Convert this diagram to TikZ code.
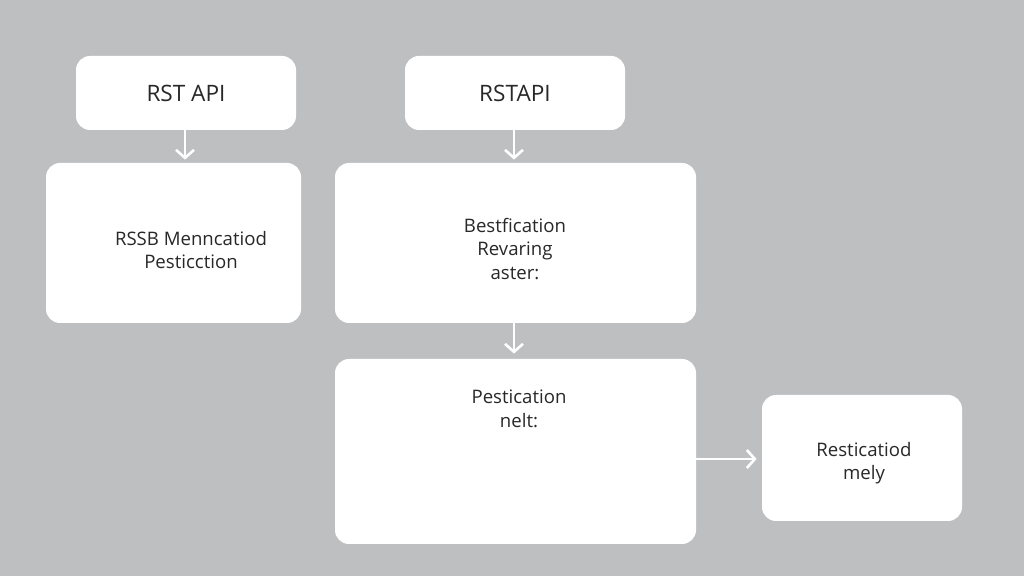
\documentclass[tikz,border=0pt]{standalone}
\usepackage{fontspec}
\setmainfont{Open Sans}
\usetikzlibrary{arrows.meta}
\definecolor{bggrey}{RGB}{189,191,193}
\definecolor{txtgrey}{RGB}{40,40,40}

\begin{document}
\begin{tikzpicture}[x=0.5pt,y=-0.5pt,
			every node/.style = {shape=rectangle, rounded corners=7pt,
				fill=white, align=center, inner sep=0pt,
				text=txtgrey, font=\fontsize{9.3}{11.8}\selectfont},
			flow/.style = {draw=white, line width=1.3pt,
				-{Straight Barb[length=4pt,width=9pt,line width=1.3pt]}}]
			\tikzset{caption/.style={fill=none}}
			\fill[bggrey] (0,0) rectangle (1024,576);
			\useasboundingbox (0,0) rectangle (1024,576);
			% top row
			\node[minimum width=110pt, minimum height=37pt, font=\fontsize{11.3}{14}\selectfont] (restL) at (186,93) {RST API};
			\node[minimum width=110pt, minimum height=37pt, font=\fontsize{11.3}{14}\selectfont] (restR) at (515,93) {RSTAPI};
			% middle row
			\node[minimum width=127.5pt, minimum height=80pt] (checkL) at (173.5,243) {};
			\node[caption] (checkLtxt) at (191,250) {RSSB Menncatiod\\Pesticction};
			\node[minimum width=180.5pt, minimum height=80pt] (bestR) at (515.5,243) {};
			\node[caption] (bestRtxt) at (515,249) {Bestfication\\Revaring\\aster:};
			% bottom row
			\node[minimum width=180.5pt, minimum height=92.5pt] (pestR) at (515.5,451.5) {};
			\node[caption] (pestRtxt) at (519,409) {Pestication\\nelt:};
			\node[minimum width=100pt, minimum height=63pt] (mely) at (862,458) {};
			\node[caption] (melytxt) at (864,463) {Resticatiod\\mely};
			% connectors
			\draw[flow, shorten >=1.5pt] (restL.south -| 185,0) -- (checkL.north -| 185,0);
			\draw[flow, shorten >=1.5pt] (restR.south -| 514,0) -- (bestR.north -| 514,0);
			\draw[flow, shorten >=2.5pt] (bestR.south -| 514,0) -- (pestR.north -| 514,0);
			\draw[flow, shorten >=2.5pt] (pestR.east |- 0,459) -- (mely.west |- 0,459);
		\end{tikzpicture}
\end{document}
